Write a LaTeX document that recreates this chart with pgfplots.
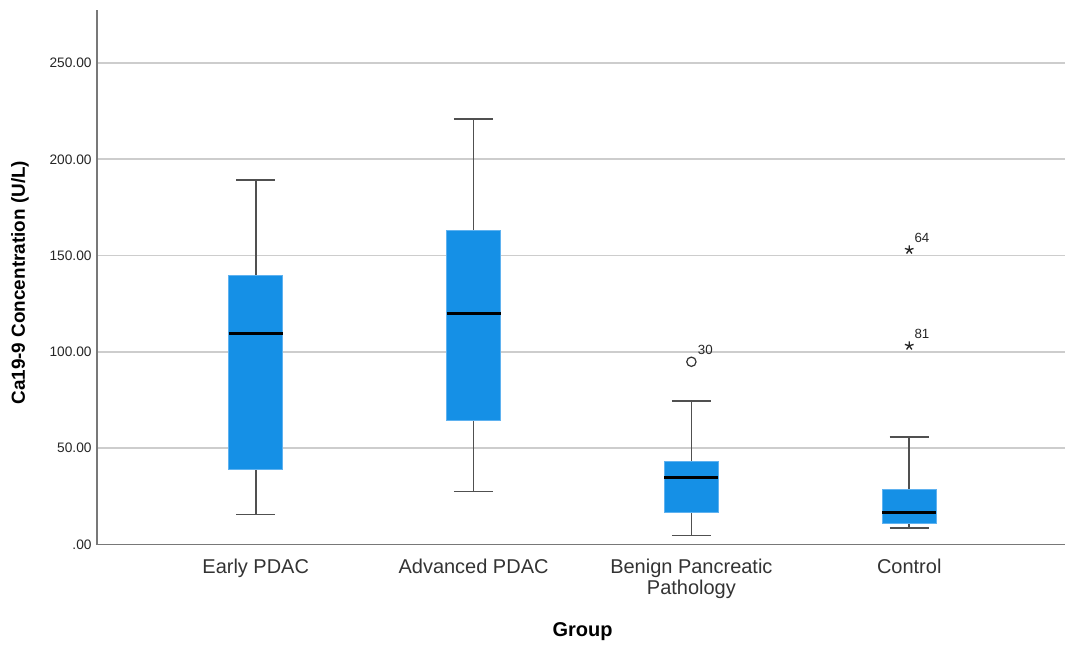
\documentclass[border=0pt]{standalone}
\usepackage{pgfplots}
\pgfplotsset{compat=1.18}
\usepackage{fontspec}
\setmainfont{Liberation Sans}

\definecolor{boxblue}{RGB}{21,144,230}
\definecolor{boxedge}{RGB}{95,178,240}
\definecolor{gridgray}{RGB}{205,205,205}
\definecolor{axisgray}{RGB}{120,120,120}
\definecolor{whiskgray}{RGB}{80,80,80}

\begin{document}
\begin{tikzpicture}
\begin{axis}[
  at={(0,0)}, anchor=south west,
  scale only axis,
  width=726.75pt, height=401.25pt,
  xmin=0.271, xmax=4.716,
  ymin=0, ymax=277.5,
  axis x line*=bottom, axis y line*=left,
  axis line style={axisgray, line width=1.1pt, -},
  tick style={draw=none},
  xtick={1,2,3,4},
  xticklabels={Early PDAC, Advanced PDAC, {Benign Pancreatic\\Pathology}, Control},
  x tick label style={align=center, font=\fontsize{15}{16}\selectfont, text=black!80, yshift=-7pt},
  ytick={0,50,100,150,200,250},
  yticklabels={.00,50.00,100.00,150.00,200.00,250.00},
  y tick label style={font=\fontsize{10.3}{12}\selectfont, text=black!85, xshift=-0.5pt},
  ymajorgrids,
  grid style={gridgray, line width=1.2pt},
  ylabel={Ca19-9 Concentration (U/L)},
  ylabel style={at={(axis description cs:-0.0795,0.49)}, anchor=center,
    font=\bfseries\fontsize{14.2}{16}\selectfont},
  xlabel={Group},
  xlabel style={at={(axis description cs:0.5015,0)}, anchor=center, yshift=-65.5pt,
    font=\bfseries\fontsize{15}{16}\selectfont},
  unbounded coords=jump,
  clip=false,
]
% whiskers and caps (q3 -> upper whisker, q1 -> lower whisker)
\addplot[whiskgray, line width=1.3pt] coordinates {
  (1,139.5) (1,189.3) (1,nan) (0.91,189.3) (1.09,189.3) (1,nan)
  (1,38.9)  (1,15.6)  (1,nan) (0.91,15.6)  (1.09,15.6)  (1,nan)
  (2,162.9) (2,221.0) (2,nan) (1.91,221.0) (2.09,221.0) (2,nan)
  (2,64.3)  (2,27.5)  (2,nan) (1.91,27.5)  (2.09,27.5)  (2,nan)
  (3,43.0)  (3,74.7)  (3,nan) (2.91,74.7)  (3.09,74.7)  (3,nan)
  (3,16.6)  (3,4.7)   (3,nan) (2.91,4.7)   (3.09,4.7)   (3,nan)
  (4,28.5)  (4,56.0)  (4,nan) (3.91,56.0)  (4.09,56.0)  (4,nan)
  (4,10.9)  (4,8.8)   (4,nan) (3.91,8.8)   (4.09,8.8)
};
% interquartile boxes
\addplot[fill=boxblue, draw=boxedge, line width=0.6pt] coordinates
  {(0.876,38.9) (1.124,38.9) (1.124,139.5) (0.876,139.5)} --cycle;
\addplot[fill=boxblue, draw=boxedge, line width=0.6pt] coordinates
  {(1.876,64.3) (2.124,64.3) (2.124,162.9) (1.876,162.9)} --cycle;
\addplot[fill=boxblue, draw=boxedge, line width=0.6pt] coordinates
  {(2.876,16.6) (3.124,16.6) (3.124,43.0) (2.876,43.0)} --cycle;
\addplot[fill=boxblue, draw=boxedge, line width=0.6pt] coordinates
  {(3.876,10.9) (4.124,10.9) (4.124,28.5) (3.876,28.5)} --cycle;
% medians
\addplot[black, line width=2.2pt] coordinates {
  (0.876,109.4) (1.124,109.4) (1,nan)
  (1.876,119.8) (2.124,119.8) (2,nan)
  (2.876,34.8)  (3.124,34.8)  (3,nan)
  (3.876,16.6)  (4.124,16.6)
};
% outliers (circle) and extremes (star), labelled by case number
\addplot[only marks, mark=o, mark size=3.5pt, draw=black!80, line width=0.9pt,
  point meta=explicit symbolic, nodes near coords,
  nodes near coords style={anchor=south west, inner sep=0pt, xshift=4.5pt, yshift=5pt,
    font=\fontsize{10}{12}\selectfont, text=black!85}]
  coordinates {(3,94.9) [30]};
\addplot[only marks, mark=star, mark size=3.4pt, draw=black!85, line width=1pt,
  point meta=explicit symbolic, nodes near coords,
  nodes near coords style={anchor=south west, inner sep=0pt, xshift=3.5pt, yshift=5pt,
    font=\fontsize{10}{12}\selectfont, text=black!85}]
  coordinates {(4,153.0) [64] (4,103.2) [81]};
\end{axis}
\path (-72.75pt,-74.25pt) rectangle (726.75pt,408.75pt);
\end{tikzpicture}
\end{document}
